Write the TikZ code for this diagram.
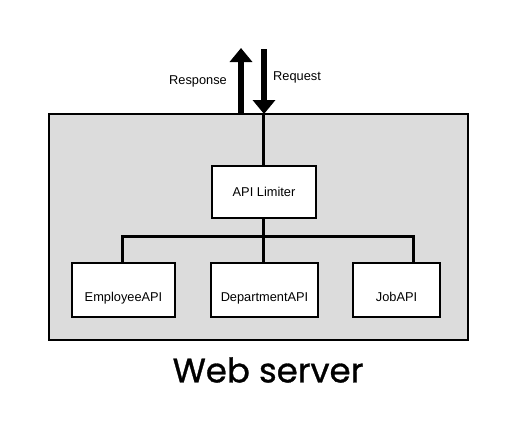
\documentclass[tikz,border=0pt]{standalone}
\usepackage{fontspec}
\setmainfont{Liberation Sans}
\newfontfamily\titlefont{Poppins}[FakeBold=0.9]
\usetikzlibrary{arrows.meta,positioning}
\definecolor{servergray}{HTML}{DCDCDC}
\newcommand{\lowtext}[1]{\raisebox{-11pt}[0pt][0pt]{#1}}
\tikzset{
  apibox/.style={draw=black, line width=2pt, fill=white, inner sep=0pt, font=\fontsize{12.8}{14}\selectfont},
  conn/.style={line width=3pt},
  bigarrow/.style={line width=6pt, -{Triangle[width=22pt,length=14pt]}},
  lbl/.style={font=\fontsize{12.8}{14}\selectfont, inner sep=0pt}
}
\begin{document}
\begin{tikzpicture}[x=1pt,y=-1pt]
\useasboundingbox (0,0) rectangle (518,437);
\node[draw=black, line width=2pt, fill=servergray, minimum width=419pt, minimum height=226pt, inner sep=0pt] (server) at (258.5,227) {};
\node[apibox, minimum width=104pt, minimum height=52pt] (limiter) at (264,192) {API Limiter};
\node[apibox, minimum width=103pt, minimum height=54pt] (emp) at (123.5,290) {\lowtext{EmployeeAPI}};
\node[apibox, minimum width=107pt, minimum height=54pt] (dep) at (264.5,290) {\lowtext{DepartmentAPI}};
\node[apibox, minimum width=87pt, minimum height=54pt] (job) at (396.5,290) {\lowtext{JobAPI}};
\coordinate (bus) at (263,236);
\coordinate (top) at (263,114);
\draw[conn] (top) -- (limiter.north -| top);
\draw[conn] (limiter.south -| bus) -- (bus);
\draw[conn] (emp.north -| 122,0) |- (bus) -| (job.north -| 413,0);
\draw[conn] (bus) -- (dep.north -| bus);
\coordinate (respS) at (241,114);
\coordinate (respE) at (241,48);
\coordinate (reqS) at (264,49);
\coordinate (reqE) at (264,114);
\draw[bigarrow] (respS) -- (respE);
\draw[bigarrow] (reqS) -- (reqE);
\node[lbl] (resp) at (198,81) {Response};
\node[lbl] (req) at (297,77) {Request};
\node[inner sep=0pt, font=\titlefont\fontsize{34}{38}\selectfont] (title) at (268,370) {Web server};
\end{tikzpicture}
\end{document}
